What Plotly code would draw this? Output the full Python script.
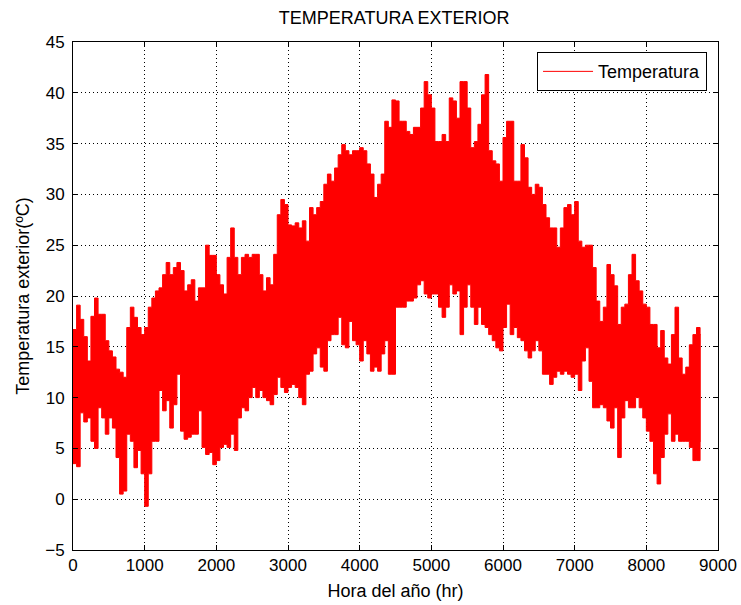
import plotly.graph_objects as go

# Hour of year at the start of each 50-hour block, and the end of the year
hour_step = 50
hour_end = 8760
hours = list(range(0, hour_end, hour_step))

# Maximum temperature (ºC) read in each 50-hour block
t_max = [
    16.7, 19.1, 17.7, 16.0, 13.6, 18.0, 19.8, 18.2, 18.2, 15.6,
    14.6, 14.0, 12.8, 12.5, 12.0, 16.9, 18.9, 17.9, 16.9, 16.2,
    16.9, 18.9, 19.8, 20.5, 20.8, 22.1, 23.3, 22.1, 22.8, 23.3,
    22.5, 20.5, 21.1, 21.6, 19.5, 20.8, 20.8, 25.0, 24.0, 24.0,
    22.1, 21.1, 20.2, 23.8, 26.7, 23.8, 22.1, 23.8, 24.1, 23.8,
    24.1, 24.1, 22.1, 20.5, 21.8, 21.1, 24.1, 28.0, 29.5, 29.0,
    27.0, 26.9, 27.2, 26.7, 27.4, 25.4, 28.7, 28.0, 28.7, 29.3,
    31.0, 32.0, 31.3, 32.6, 33.9, 34.9, 34.3, 33.9, 34.3, 34.3,
    34.6, 34.3, 33.0, 32.0, 29.7, 31.0, 32.0, 37.2, 36.6, 39.3,
    39.2,
    37.2, 37.2, 36.2, 35.9, 36.6, 36.6, 38.5, 41.1, 39.8, 38.5,
    35.2, 35.2, 35.9, 35.2, 39.5, 39.2, 37.5, 41.1, 41.1, 38.5,
    34.6, 35.2, 36.9, 39.8, 41.8, 34.3, 33.3, 33.0, 31.3, 35.6,
    37.2, 37.2, 31.3, 31.3, 34.9, 33.6, 30.7, 30.0, 31.0, 30.7,
    29.0, 27.7, 26.7, 26.7, 24.8, 26.7, 28.7, 29.0, 28.0, 29.3,
    25.4, 24.8, 25.0, 25.0, 22.8, 19.5, 17.5, 18.9, 23.1, 22.1,
    21.0,
    17.2, 18.9, 19.2, 22.1, 24.1, 21.5, 20.5, 19.2, 18.9, 17.2,
    17.2, 14.9, 16.6, 13.9, 13.3, 16.2, 18.9, 13.9, 12.3, 13.0,
    15.2, 16.2, 16.9, 16.2,
]

# Minimum temperature (ºC) read in each 50-hour block
t_min = [
    3.5, 3.2, 8.5, 7.6, 8.0, 5.7, 5.0, 9.0, 8.0, 6.4,
    8.0, 7.0, 4.1, 0.5, 0.8, 6.4, 5.7, 3.1, 4.8, 2.5,
    -0.7, 2.5, 5.7, 5.7, 10.7, 8.7, 9.7, 7.0, 9.3, 12.3,
    6.7, 5.9, 6.1, 6.4, 6.4, 8.7, 5.1, 4.4, 4.6, 3.4,
    3.8, 5.1, 5.4, 5.1, 6.4, 4.8, 8.0, 9.0, 8.7, 10.0,
    11.0, 10.0, 10.7, 10.0, 9.7, 9.3, 10.3, 12.0, 11.0, 10.5,
    11.0, 11.3, 11.0, 10.0, 9.3, 12.3, 12.6, 14.3, 14.9, 13.0,
    12.6, 15.6, 16.2, 16.2, 17.9, 15.2, 14.9, 17.5, 15.6, 15.2,
    13.6, 15.6, 14.3, 12.6, 13.0, 12.6, 14.3, 15.6, 12.3, 12.3,
    18.9,
    18.9, 18.9, 19.5, 19.5, 19.8, 21.1, 21.5, 20.2, 19.8, 20.2,
    20.2, 18.9, 17.9, 18.9, 21.1, 20.2, 20.5, 16.2, 18.9, 21.1,
    18.9, 17.2, 18.9, 17.2, 16.9, 16.2, 15.6, 14.9, 14.6, 16.9,
    19.2, 16.2, 16.9, 15.9, 15.6, 14.6, 13.9, 14.6, 15.6, 14.6,
    12.3, 12.3, 11.3, 12.0, 12.6, 12.3, 12.6, 12.3, 12.0, 12.3,
    10.7, 13.6, 14.9, 11.6, 9.0, 9.0, 9.3, 9.0, 7.7, 7.0,
    9.0,
    4.1, 8.0, 9.7, 9.0, 9.0, 10.0, 9.0, 8.0, 6.7, 5.7,
    2.5, 1.5, 4.1, 6.4, 8.4, 5.7, 6.4, 5.7, 5.7, 5.7,
    5.1, 3.8, 3.8, 5.7,
]

x_ticks = [0, 1000, 2000, 3000, 4000, 5000, 6000, 7000, 8000, 9000]
y_ticks = [-5, 0, 5, 10, 15, 20, 25, 30, 35, 40, 45]

title_text = "TEMPERATURA EXTERIOR"
x_title = "Hora del año (hr)"
y_title = "Temperatura exterior(ºC)"
series_name = "Temperatura"

RED = "#ff0000"
FONT = "Liberation Sans, Arial, sans-serif"

x_edges = hours + [hour_end]
y_low = t_min + [t_min[-1]]
y_high = t_max + [t_max[-1]]

fig = go.Figure()
fig.add_trace(go.Scatter(
    x=x_edges, y=y_low, mode="lines", line=dict(color=RED, width=1, shape="hv"),
    showlegend=False, hoverinfo="skip"))
fig.add_trace(go.Scatter(
    x=x_edges, y=y_high, mode="lines", line=dict(color=RED, width=1, shape="hv"),
    fill="tonexty", fillcolor=RED, showlegend=False, hoverinfo="skip"))
fig.add_trace(go.Scatter(
    x=[None], y=[None], mode="lines", line=dict(color=RED, width=1),
    name=series_name))

axis_common = dict(
    showline=True, linecolor="black", linewidth=1, mirror="ticks",
    ticks="inside", ticklen=5, tickcolor="black", automargin=False,
    showgrid=True, gridcolor="black", gridwidth=1, griddash="1px,3px",
    zeroline=False, tickfont=dict(family=FONT, size=17, color="black"),
)

fig.update_layout(
    width=741, height=605,
    margin=dict(l=73, r=23, t=42, b=55),
    paper_bgcolor="white", plot_bgcolor="white",
    font=dict(family=FONT, size=17, color="black"),
    title=dict(text=title_text, x=0.532, xanchor="center", y=0.97, yanchor="middle",
               font=dict(family=FONT, size=18, color="black")),
    xaxis=dict(range=[0, 9000], tickvals=x_ticks, **axis_common,
               title=dict(text=x_title, standoff=9, font=dict(family=FONT, size=18))),
    yaxis=dict(range=[-5, 45], tickvals=y_ticks, **axis_common,
               ticklabelstandoff=4,
               title=dict(text=y_title, standoff=10, font=dict(family=FONT, size=18))),
    legend=dict(x=0.983, y=0.98, xanchor="right", yanchor="top",
                bgcolor="white", bordercolor="black", borderwidth=1,
                font=dict(family=FONT, size=18, color="black"), itemwidth=50),
    showlegend=True,
)

fig.write_html("out.html")
